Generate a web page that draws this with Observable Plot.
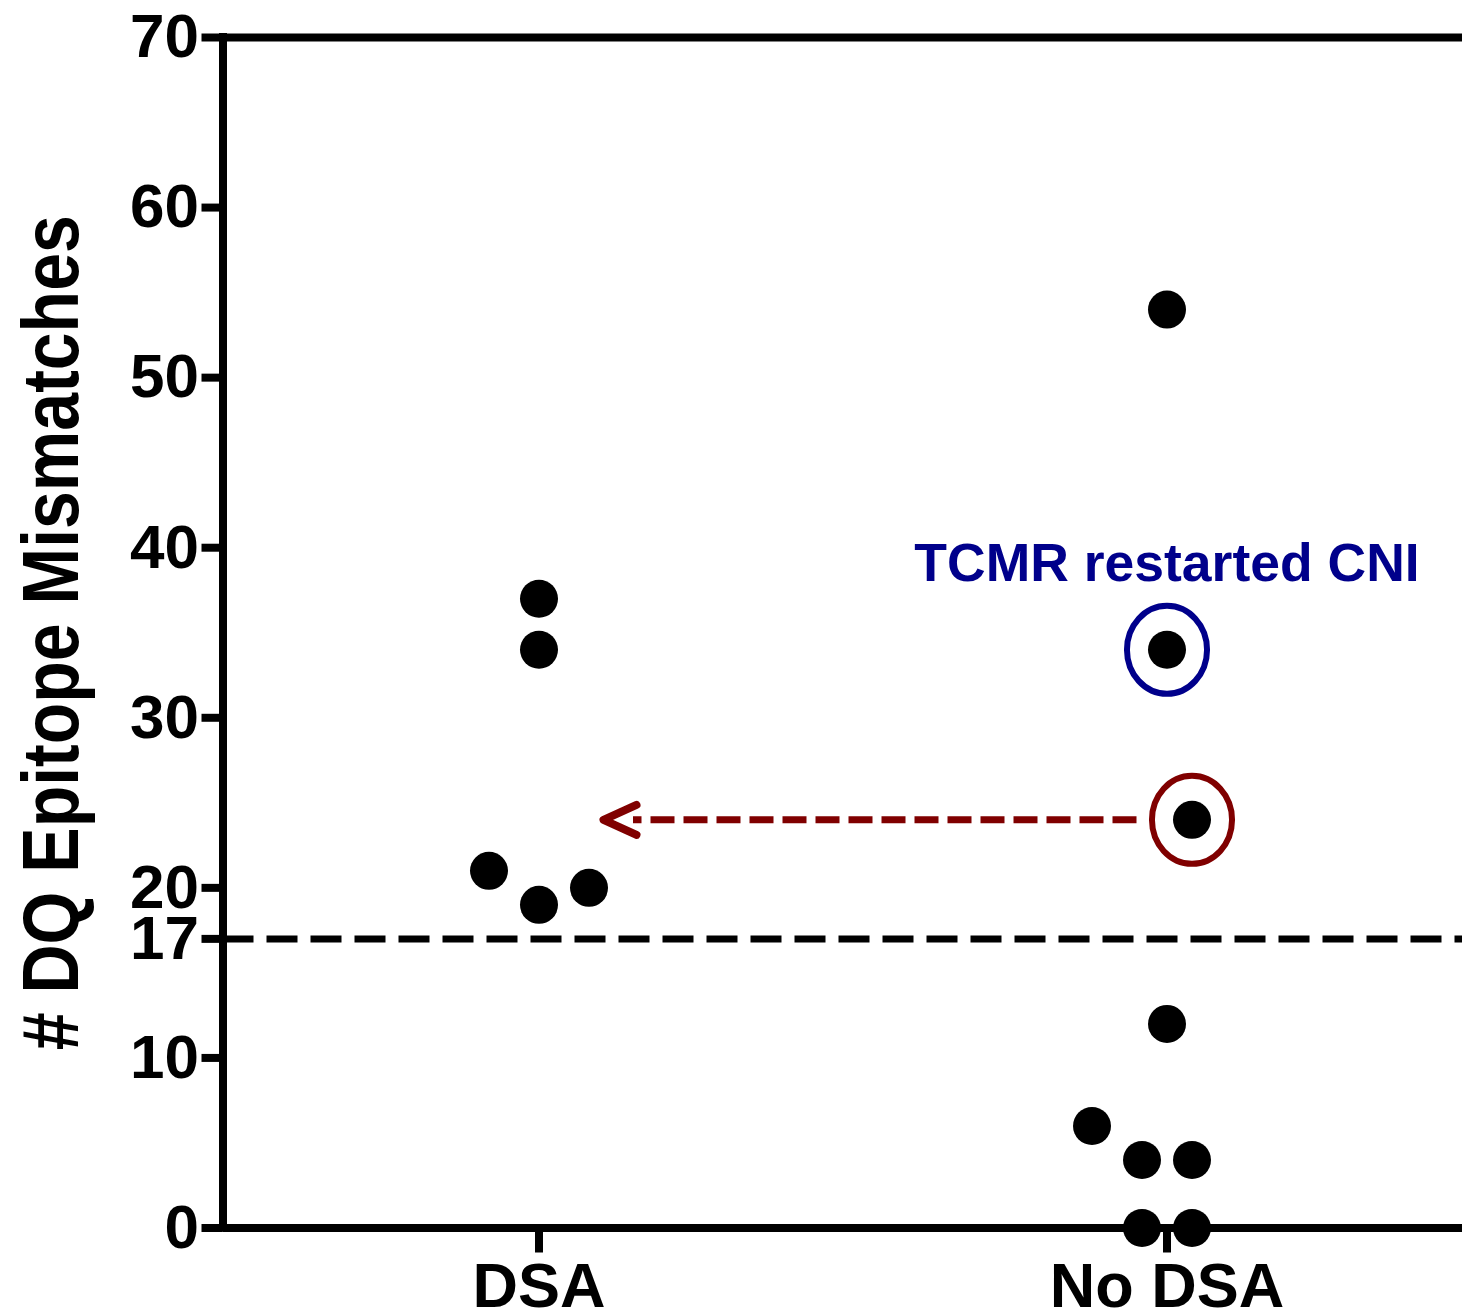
<!DOCTYPE html>
<html>
<head>
<meta charset="utf-8">
<script src="https://cdn.jsdelivr.net/npm/d3@7"></script>
<script src="https://cdn.jsdelivr.net/npm/@observablehq/plot@0.6"></script>
<style>
  html, body { margin: 0; padding: 0; background: #fff; }
  #chart svg { font-weight: bold; }
</style>
</head>
<body>
<div id="chart"></div>
<script>
// Groups on the x axis
const groups = ["DSA", "No DSA"];

// DQ epitope mismatch counts per patient, with their swarm lane (in half-dot steps)
const dsaValues   = [37, 34, 21, 19, 20];
const dsaLanes    = [0, 0, -2, 0, 2];
const noDsaValues = [54, 34, 24, 12, 6, 4, 4, 0, 0];
const noDsaLanes  = [0, 0, 1, 0, -3, -1, 1, -1, 1];

// Y axis ticks and the mismatch cut-off
const yTicks = [0, 10, 17, 20, 30, 40, 50, 60, 70];
const cutoff = 17;

const yLabel = "# DQ Epitope Mismatches";
const noteText = "TCMR restarted CNI";

// Highlighted patients (group, value) and their ring colours
const highlightGroups = ["No DSA", "No DSA"];
const highlightValues = [34, 24];
const highlightColors = ["#00008b", "#800000"];

// ---- layout ----
const W = 1462, H = 1316;
const marginLeft = 222.5, marginTop = 37, marginBottom = 88.5, marginRight = 0;
const groupPx = [538.5, 1166.5];
const unitPx = groupPx[1] - groupPx[0];
const px = (d) => d / unitPx;          // pixel distance -> x units
const laneStep = px(25);
const xLeft = px(marginLeft - groupPx[0]);

const points = [
  ...dsaValues.map((v, i) => ({group: 0, value: v, lane: dsaLanes[i]})),
  ...noDsaValues.map((v, i) => ({group: 1, value: v, lane: noDsaLanes[i]}))
].map((d) => ({...d, x: d.group + d.lane * laneStep}));

const highlights = highlightValues.map((v, i) => {
  const g = groups.indexOf(highlightGroups[i]);
  const p = points.find((d) => d.group === g && d.value === v);
  return {...p, color: highlightColors[i]};
});

// Arrow from the red-ringed patient back towards the DSA group
const arrowFrom = highlights[1];
const arrow = {
  x1: arrowFrom.x - px(55.5),
  x2: 0 + px(94),
  tip: 0 + px(64.5),
  y: arrowFrom.value,
  color: arrowFrom.color
};

// Slightly tall ellipse symbol
const ellipse = {
  draw(context, size) {
    const ry = Math.sqrt(size / Math.PI), rx = ry * 0.91, k = 0.5523;
    context.moveTo(rx, 0);
    context.bezierCurveTo(rx, k * ry, k * rx, ry, 0, ry);
    context.bezierCurveTo(-k * rx, ry, -rx, k * ry, -rx, 0);
    context.bezierCurveTo(-rx, -k * ry, -k * rx, -ry, 0, -ry);
    context.bezierCurveTo(k * rx, -ry, rx, -k * ry, rx, 0);
    context.closePath();
  }
};

// Open chevron pointing left, apex at the anchor
const chevron = {
  draw(context) {
    context.moveTo(33, -15);
    context.lineTo(0, 0);
    context.lineTo(33, 15);
  }
};

const chart = Plot.plot({
  width: W,
  height: H,
  marginLeft, marginTop, marginBottom, marginRight,
  style: {
    fontFamily: "'Liberation Sans', Arial, Helvetica, sans-serif",
    color: "black",
    background: "white",
    overflow: "visible"
  },
  x: {domain: [0, 1], range: groupPx},
  y: {domain: [0, 70]},
  marks: [
    Plot.ruleY([cutoff], {stroke: "black", strokeWidth: 7, strokeDasharray: "31,13"}),
    Plot.ruleY([0, 70], {stroke: "black", strokeWidth: 8}),
    Plot.ruleX([xLeft], {stroke: "black", strokeWidth: 8, strokeLinecap: "square"}),
    Plot.axisY({
      ticks: yTicks, tickSize: 21, tickPadding: 3, strokeWidth: 8,
      fontSize: 62, fontWeight: "bold", label: null
    }),
    Plot.axisX({
      ticks: [0, 1], tickFormat: (i) => groups[i], tickSize: 25, tickPadding: 9,
      strokeWidth: 8, fontSize: 63, fontWeight: "bold", label: null
    }),
    Plot.dot(points, {x: "x", y: "value", r: 19, fill: "black"}),
    Plot.dot(highlights, {
      x: "x", y: "value", r: 44, symbol: ellipse, fill: "none",
      stroke: {value: (d) => d.color, scale: null}, strokeWidth: 6
    }),
    Plot.link([arrow], {
      x1: "x1", x2: "x2", y1: "y", y2: "y",
      stroke: arrow.color, strokeWidth: 7, strokeDasharray: "24,9"
    }),
    Plot.dot([arrow], {
      x: "tip", y: "y", symbol: chevron, r: 10, fill: "none",
      stroke: arrow.color, strokeWidth: 8, strokeLinecap: "round", strokeLinejoin: "round"
    }),
    Plot.text([highlights[0]], {
      x: "x", y: "value", text: () => noteText, dy: -69, lineAnchor: "bottom",
      fontSize: 53.5, fontWeight: "bold", fill: "#00008b"
    }),
    Plot.text([yLabel], {
      frameAnchor: "left", text: (d) => d, rotate: -90, dx: -145.5,
      textAnchor: "middle", lineAnchor: "bottom",
      fontSize: 68, fontWeight: "bold", fill: "black"
    })
  ]
});

// Stretch the rotated axis title across its glyph height
d3.select(chart).selectAll("text")
  .filter(function () { return this.textContent === yLabel; })
  .attr("transform", function () { return (this.getAttribute("transform") || "") + " scale(1,1.17)"; });

document.getElementById("chart").appendChild(chart);
</script>
</body>
</html>
